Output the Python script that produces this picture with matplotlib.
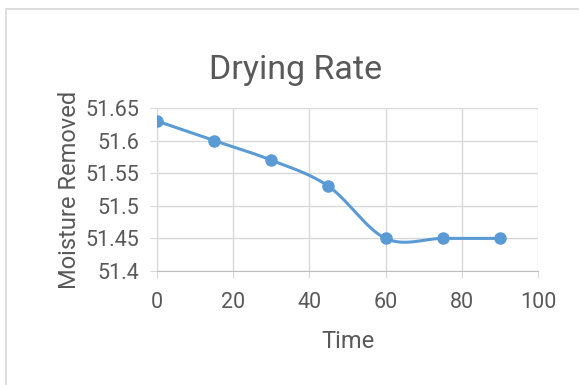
import numpy as np
import matplotlib.pyplot as plt
from matplotlib.patches import Rectangle

time = [0, 15, 30, 45, 60, 75, 90]
moisture = [51.63, 51.60, 51.57, 51.53, 51.45, 51.45, 51.45]
xticks = [0, 20, 40, 60, 80, 100]
yticks = [51.4, 51.45, 51.5, 51.55, 51.6, 51.65]
ytick_labels = ["51.4", "51.45", "51.5", "51.55", "51.6", "51.65"]

BLUE = "#5b9bd5"
TEXT = "#595959"
GRID = "#d9d9d9"

plt.rcParams['font.family'] = ['Roboto', 'DejaVu Sans']


def smooth(xs, ys, n=30):
    # Excel-style smoothed line: Catmull-Rom through the points as cubic Beziers
    xs = np.asarray(xs, float)
    ys = np.asarray(ys, float)
    px = np.concatenate([[xs[0]], xs, [xs[-1]]])
    py = np.concatenate([[ys[0]], ys, [ys[-1]]])
    out_x, out_y = [], []
    t = np.linspace(0, 1, n)
    for i in range(1, len(px) - 2):
        p0 = np.array([px[i], py[i]])
        p3 = np.array([px[i + 1], py[i + 1]])
        p1 = p0 + (np.array([px[i + 1], py[i + 1]]) - np.array([px[i - 1], py[i - 1]])) / 6
        p2 = p3 - (np.array([px[i + 2], py[i + 2]]) - np.array([px[i], py[i]])) / 6
        b = ((1 - t) ** 3)[:, None] * p0 + (3 * (1 - t) ** 2 * t)[:, None] * p1 \
            + (3 * (1 - t) * t ** 2)[:, None] * p2 + (t ** 3)[:, None] * p3
        out_x.extend(b[:, 0])
        out_y.extend(b[:, 1])
    return out_x, out_y


fig = plt.figure(figsize=(5.79, 3.85), dpi=100)
fig.patches.append(Rectangle((6 / 579, -0.1), 1.2, 1 - 9 / 385 + 0.1, transform=fig.transFigure,
                             fill=False, edgecolor=GRID, linewidth=1.2))

ax = fig.add_axes([157 / 579, 1 - 271 / 385, 381 / 579, 163 / 385])
sx, sy = smooth(time, moisture)
ax.plot(sx, sy, color=BLUE, linewidth=2.2, zorder=3)
ax.plot(time, moisture, 'o', color=BLUE, markersize=8, zorder=4)

ax.set_xlim(0, 100)
ax.set_ylim(51.4, 51.65)
ax.set_xticks(xticks)
ax.set_yticks(yticks)
ax.set_yticklabels(ytick_labels)
ax.grid(True, color=GRID, linewidth=1)
ax.set_axisbelow(True)
for s in ["top", "right"]:
    ax.spines[s].set_visible(False)
ax.spines["left"].set_color(GRID)
ax.spines["bottom"].set_color("#bfbfbf")
ax.tick_params(axis="both", colors=GRID, length=5, labelcolor=TEXT, labelsize=15.5)
ax.tick_params(axis="x", pad=10)
ax.tick_params(axis="y", pad=8)

fig.text(296 / 579, 1 - 79 / 385, "Drying Rate", fontsize=24.5, color=TEXT,
         ha="center", va="baseline")
ax.set_xlabel("Time", fontsize=17, color=TEXT, labelpad=12)
ax.set_ylabel("Moisture Removed", fontsize=17, color=TEXT, labelpad=3)

plt.savefig("out.png", dpi=100)
